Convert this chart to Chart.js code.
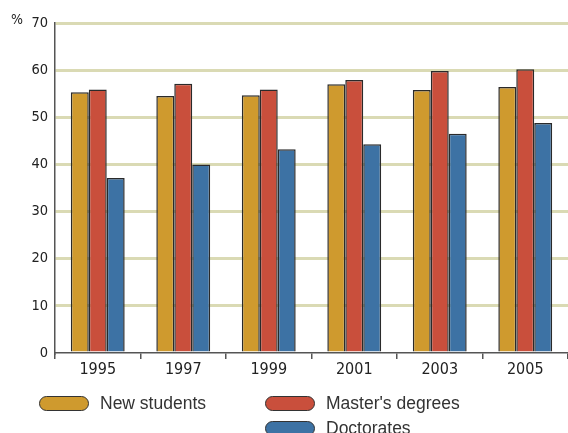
<!DOCTYPE html>
<html><head><meta charset="utf-8">
<script src="https://cdn.jsdelivr.net/npm/chart.js@4/dist/chart.umd.min.js"></script>
<style>
html,body{margin:0;padding:0;background:#fff;}
#wrap{position:relative;width:568px;height:433px;overflow:hidden;}
#pct{position:absolute;left:11px;top:11px;font:14px "Liberation Sans Narrow","DejaVu Sans Condensed",sans-serif;color:#222;}
.lg{position:absolute;display:flex;align-items:center;font:17.5px "Liberation Sans",Arial,sans-serif;color:#333;}
.pill{width:48px;height:13px;border:1.5px solid #333;border-radius:8px;margin-right:11px;}
</style></head>
<body><div id="wrap"><canvas id="c" width="568" height="433"></canvas><div id="pct">%</div></div>
<script>
const categories = ["1995","1997","1999","2001","2003","2005"];
const seriesNames = ["New students","Master's degrees","Doctorates"];
const newStudents = [55.3, 54.5, 54.7, 57.0, 55.8, 56.4];
const mastersDegrees = [55.9, 57.1, 55.9, 57.9, 59.8, 60.2];
const doctorates = [37.1, 40.0, 43.2, 44.3, 46.5, 48.8];
const yTicks = [0,10,20,30,40,50,60,70];
const colors = ["#CF9A2E","#C94F3C","#3D72A4"];

const fam = "'Liberation Sans Narrow','DejaVu Sans Condensed',sans-serif";
const data = {
  labels: categories,
  datasets: [newStudents, mastersDegrees, doctorates].map((d,i)=>({
    label: seriesNames[i], data: d, backgroundColor: colors[i],
    borderColor: "#2a2a2a", borderWidth: 1.5,
    categoryPercentage: 0.63, barPercentage: 1.0
  }))
};
new Chart(document.getElementById('c'), {
  type: 'bar', data,
  options: {
    responsive:false, animation:false,
    layout:{padding:{top:23,right:0,bottom:50,left:0}},
    plugins:{legend:{display:false}, tooltip:{enabled:false}},
    scales:{
      x:{
        grid:{offset:true, drawOnChartArea:false, drawTicks:true, tickLength:6, color:"#555", lineWidth:1.5},
        border:{color:"#555", width:1.5},
        ticks:{font:{family:fam, size:16}, color:"#222", padding:1},
        afterFit(s){ s.height = 30; }
      },
      y:{
        min:0, max:70,
        afterBuildTicks(s){ s.ticks = yTicks.map(v=>({value:v})); },
        grid:{drawTicks:false, color:(ctx)=> ctx.tick && ctx.tick.value===0 ? 'rgba(0,0,0,0)' : '#DADAB4', lineWidth:3},
        border:{color:"#555", width:1.5},
        ticks:{font:{family:fam, size:14.5}, color:"#222", padding:7},
        afterFit(s){ s.width = 55; }
      }
    }
  }
});
const pos = [[39,393],[265,393],[265,418]];
data.datasets.forEach((ds,i)=>{
  const el = document.createElement('div');
  el.className='lg';
  el.style.left = pos[i][0]+'px'; el.style.top = pos[i][1]+'px';
  el.innerHTML = '<span class="pill" style="background:'+ds.backgroundColor+'"></span><span>'+ds.label+'</span>';
  document.getElementById('wrap').appendChild(el);
});
</script></body></html>
